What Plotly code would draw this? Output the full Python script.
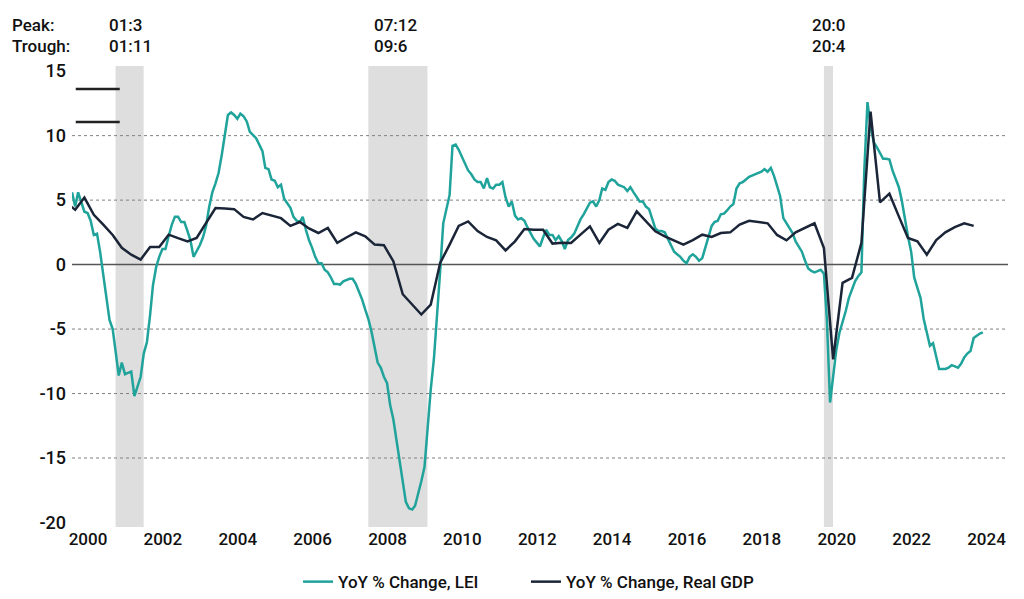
import pandas as pd
import plotly.graph_objects as go

# --- data -----------------------------------------------------------------
# LEI, YoY % change, monthly from Jan 2000
LEI = [
    5.6, 4.5, 5.6, 4.9, 4.1, 4.0, 3.4, 2.3, 2.4, 1.0, -0.8, -2.4,            # 2000
    -4.3, -5.0, -6.9, -8.6, -7.6, -8.5, -8.4, -8.3, -10.2, -9.5, -8.7, -6.9,  # 2001
    -6.0, -3.9, -1.6, -0.2, 0.6, 1.2, 1.2, 2.2, 3.1, 3.7, 3.7, 3.3,          # 2002
    3.3, 2.6, 1.9, 0.6, 1.0, 1.5, 2.1, 3.0, 4.5, 5.6, 6.3, 7.1,              # 2003
    8.5, 10.3, 11.6, 11.8, 11.6, 11.3, 11.7, 11.5, 11.1, 10.3, 10.0, 9.8,    # 2004
    9.3, 8.8, 7.5, 7.4, 6.6, 6.5, 6.0, 6.2, 5.1, 4.8, 4.4, 3.7,              # 2005
    3.4, 3.3, 3.7, 2.7, 1.9, 1.3, 0.6, 0.1, 0.1, -0.4, -0.6, -1.0,           # 2006
    -1.5, -1.5, -1.55, -1.3, -1.2, -1.1, -1.1, -1.5, -2.1, -2.7, -3.5, -4.2,  # 2007
    -5.2, -6.4, -7.6, -8.0, -8.7, -9.2, -10.9, -12.0, -13.7, -15.4, -17.0, -18.4,  # 2008
    -18.9, -19.0, -18.7, -17.8, -16.8, -15.7, -12.7, -9.7, -7.3, -4.3, -0.5, 3.2,  # 2009
    4.2, 5.4, 9.2, 9.3, 8.9, 8.4, 7.8, 7.3, 7.0, 6.6, 6.4, 6.4,              # 2010
    5.9, 6.7, 6.0, 5.9, 6.2, 6.2, 6.4, 5.2, 4.5, 4.9, 3.8, 3.5,              # 2011
    3.6, 3.4, 2.9, 2.4, 2.0, 1.7, 1.4, 2.1, 2.7, 2.3, 2.3, 1.9,              # 2012
    2.2, 1.8, 1.2, 1.9, 2.1, 2.4, 3.0, 3.5, 3.9, 4.3, 4.8, 4.9,              # 2013
    4.5, 5.0, 5.9, 5.8, 6.4, 6.6, 6.5, 6.2, 6.1, 6.0, 5.7, 6.0,              # 2014
    5.6, 5.2, 4.9, 4.9, 4.5, 4.3, 3.6, 2.8, 2.6, 2.6, 2.5, 2.0,              # 2015
    1.5, 1.0, 0.8, 0.6, 0.3, 0.1, 0.6, 0.8, 0.6, 0.3, 0.5, 1.3,              # 2016
    2.3, 3.0, 3.3, 3.4, 3.9, 3.95, 4.2, 4.5, 4.7, 5.9, 6.3, 6.4,             # 2017
    6.6, 6.8, 6.9, 7.0, 7.1, 7.2, 7.4, 7.2, 7.5, 6.9, 6.1, 5.3,              # 2018
    3.6, 3.2, 2.9, 2.45, 1.8, 1.35, 1.0, 0.3, -0.3, -0.5, -0.6, -0.5,        # 2019
    -0.4, -0.7, -4.3, -10.7, -8.6, -6.6, -5.3, -4.5, -3.6, -2.6, -1.9, -1.3,  # 2020
    -0.9, -0.6, 7.3, 12.6, 10.7, 9.5, 9.1, 8.6, 8.2, 8.2, 8.15, 7.3,         # 2021
    6.6, 6.0, 5.0, 3.5, 2.2, 1.0, -1.0, -1.8, -2.6, -4.2, -5.3, -6.3,        # 2022
    -6.1, -7.2, -8.1, -8.1, -8.1, -8.0, -7.8, -7.9, -8.0, -7.7, -7.2, -6.9,  # 2023
    -6.7, -5.7, -5.5, -5.35, -5.25,                                          # 2024
]

# Real GDP, YoY % change, quarterly from 1999 Q4
GDP = [
    4.8,
    4.26, 5.2, 3.86, 3.1,
    2.3, 1.3, 0.77, 0.39,
    1.37, 1.37, 2.32, 2.05,
    1.8, 2.06, 3.2, 4.39,
    4.35, 4.3, 3.7, 3.5,
    4.0, 3.8, 3.6, 3.0,
    3.3, 2.8, 2.45, 2.84,
    1.68, 2.1, 2.5, 2.19,
    1.55, 1.5, 0.26, -2.3,
    -3.1, -3.87, -3.1, 0.13,
    1.55, 3.0, 3.35, 2.6,
    2.14, 1.88, 1.1, 1.8,
    2.76, 2.7, 2.7, 1.63,
    1.7, 1.68, 2.32, 2.96,
    1.68, 2.7, 3.15, 2.84,
    4.13, 3.35, 2.58, 2.19,
    1.88, 1.55, 1.9, 2.32,
    2.14, 2.45, 2.5, 3.1,
    3.4, 3.3, 3.2, 2.3,
    1.88, 2.5, 2.85, 3.2,
    1.29, -7.35, -1.42, -1.03,
    1.68, 11.87, 4.82, 5.5,
    3.74, 2.06, 1.8, 0.77,
    1.9, 2.5, 2.9, 3.2,
    3.0,
]

# recession peaks / troughs
REC_START = ["2001-03-01", "2007-12-01", "2020-02-01"]
REC_END = ["2001-11-30", "2009-06-30", "2020-04-30"]
PEAK_LABELS = ["01:3", "07:12", "20:0"]
TROUGH_LABELS = ["01:11", "09:6", "20:4"]

TICK_YEARS = list(range(2000, 2025, 2))
Y_TICKS = [-20, -15, -10, -5, 0, 5, 10, 15]
GRID_LEVELS = [-15, -10, -5, 5, 10]

TEAL = "#1fa39b"
NAVY = "#1b2538"
BAND = "#dedede"
FONT = "Roboto"
INK = "#111111"

lei_dates = pd.date_range("2000-01-01", periods=len(LEI), freq="MS")
gdp_dates = pd.date_range("1999-11-01", periods=len(GDP), freq="3MS")

fig = go.Figure()
fig.add_trace(go.Scatter(x=lei_dates, y=LEI, mode="lines", name="YoY % Change, LEI",
                         line=dict(color=TEAL, width=2.5), legend="legend"))
fig.add_trace(go.Scatter(x=gdp_dates, y=GDP, mode="lines", name="YoY % Change, Real GDP",
                         line=dict(color=NAVY, width=2.5), legend="legend2"))

# recession bands
for s, e in zip(REC_START, REC_END):
    fig.add_shape(type="rect", xref="x", yref="paper", x0=s, x1=e, y0=0, y1=1,
                  fillcolor=BAND, line_width=0, layer="below")

# dashed grid lines + solid zero line
for lvl in GRID_LEVELS:
    fig.add_shape(type="line", xref="paper", yref="y", x0=0, x1=1, y0=lvl, y1=lvl,
                  line=dict(color="#808080", width=1, dash="3px,3px"), layer="below")
fig.add_shape(type="line", xref="paper", yref="y", x0=0, x1=1, y0=0, y1=0,
              line=dict(color="#555555", width=1.5), layer="below")

# small marker lines in the top-left corner
for yy in [0.950, 0.8785]:
    fig.add_shape(type="line", xref="paper", yref="paper", x0=0.004, x1=0.051, y0=yy, y1=yy,
                  line=dict(color="#222222", width=2.5))

# header labels
txt = dict(family=FONT, size=17, color=INK, weight=500)
fig.add_annotation(text="Peak:", xref="paper", yref="paper", x=-0.066, y=1.089,
                   xanchor="left", yanchor="middle", showarrow=False, font=txt)
fig.add_annotation(text="Trough:", xref="paper", yref="paper", x=-0.066, y=1.043,
                   xanchor="left", yanchor="middle", showarrow=False, font=txt)
for xp, pk, tr in zip([0.037, 0.320, 0.788], PEAK_LABELS, TROUGH_LABELS):
    fig.add_annotation(text=pk, xref="paper", yref="paper", x=xp, y=1.089,
                       xanchor="left", yanchor="middle", showarrow=False, font=txt)
    fig.add_annotation(text=tr, xref="paper", yref="paper", x=xp, y=1.043,
                       xanchor="left", yanchor="middle", showarrow=False, font=txt)

legend_font = dict(family=FONT, size=17, color=INK, weight=500)

# the page body adds an 8px offset, so the figure is 8px smaller than the window
fig.update_layout(
    width=1016,
    height=591,
    margin=dict(l=64, r=16, t=58, b=72, autoexpand=False),
    paper_bgcolor="white",
    plot_bgcolor="white",
    font=dict(family=FONT, color=INK, weight=500),
    showlegend=True,
    legend=dict(orientation="h", x=0.2415, xanchor="left", y=-0.1195, yanchor="middle",
                font=legend_font, bgcolor="rgba(0,0,0,0)"),
    legend2=dict(orientation="h", x=0.485, xanchor="left", y=-0.1195, yanchor="middle",
                 font=legend_font, bgcolor="rgba(0,0,0,0)"),
    xaxis=dict(
        type="date",
        range=["2000-01-01", "2025-01-01"],
        tickvals=[f"{y}-06-05" for y in TICK_YEARS],
        ticktext=[str(y) for y in TICK_YEARS],
        tickfont=dict(family=FONT, size=17, color=INK, weight=500),
        showgrid=False,
        zeroline=False,
        showline=False,
        ticks="",
        automargin=False,
    ),
    yaxis=dict(
        range=[-20.35, 15.4],
        tickvals=Y_TICKS,
        ticktext=[str(v) for v in Y_TICKS],
        tickfont=dict(family=FONT, size=18, color=INK, weight=500),
        showgrid=False,
        zeroline=False,
        showline=False,
        ticks="",
        ticklabelstandoff=5,
        automargin=False,
    ),
)

fig.write_html("out.html")
